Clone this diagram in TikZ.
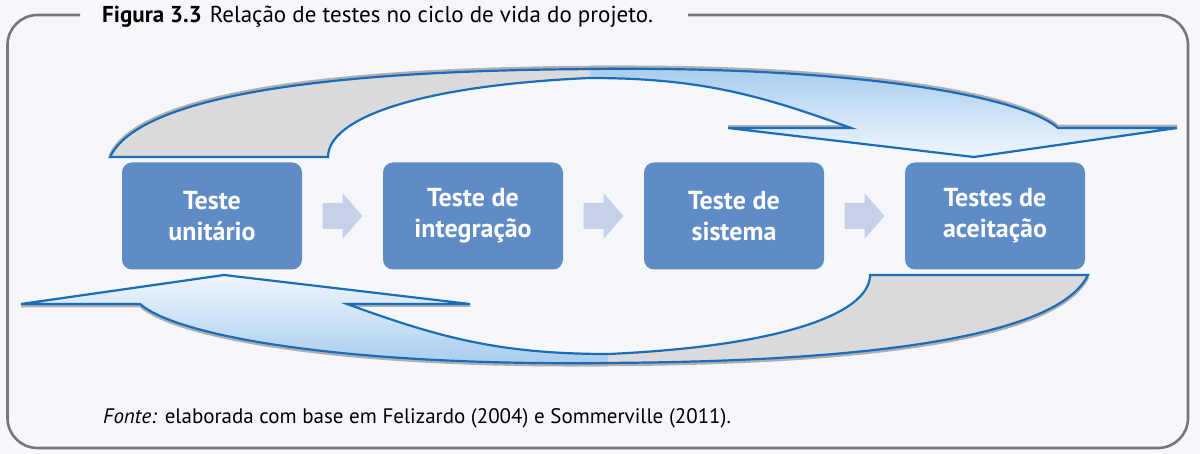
\documentclass[tikz,border=0pt]{standalone}
\usepackage{fontspec}
\setmainfont{PT Sans}
\usetikzlibrary{calc}
\definecolor{bgc}{HTML}{F5F7FB}
\definecolor{framec}{HTML}{777777}
\definecolor{boxc}{HTML}{5F8CC7}
\definecolor{smallarr}{HTML}{C6D0E8}
\definecolor{edgec}{HTML}{1B6DB9}
\definecolor{tailc}{HTML}{DADADA}
\definecolor{shadc}{HTML}{B0B0B0}
\definecolor{bluedark}{HTML}{A6CCEE}
\definecolor{bluelight}{HTML}{F0F6FD}
\begin{document}
\begin{tikzpicture}[x=1pt,y=-1pt,
  stagebox/.style={fill=boxc,rounded corners=10pt,minimum width=180pt,minimum height=107pt,
    text=white,font=\fontsize{26}{31}\selectfont\bfseries,align=center,inner sep=0pt},
  flowarr/.style={fill=smallarr},
  bigedge/.style={draw=edgec,line width=2.2pt,line join=miter},
  shadowedge/.style={draw=shadc,line width=2.6pt},
  framest/.style={draw=framec,line width=2.6pt,rounded corners=30pt}]
\useasboundingbox (0,0) rectangle (1200,454);
\fill[bgc] (0,0) rectangle (1200,454);
% frame
\draw[framest] (80,15) -- (7.5,15) -- (7.5,448) -- (1188,448) -- (1188,15) -- (688,15);
\node[anchor=base west,inner sep=0pt,font=\fontsize{23}{26}\selectfont] (title) at (102,23)
  {\textbf{Figura 3.3}\hspace{8pt}Relação de testes no ciclo de vida do projeto.};
% boxes
\node[stagebox] (b1) at (212,216) {Teste\\unitário};
\node[stagebox] (b2) at (473,216) {Teste de\\integração};
\node[stagebox] (b3) at (734,216) {Teste de\\sistema};
\node[stagebox] (b4) at (995,216) {Testes de\\aceitação};
% small arrows
\foreach \s/\t [count=\i] in {b1/b2,b2/b3,b3/b4}{
  \coordinate (m\i) at ($(\s.east)!0.5!(\t.west)$);
  \fill[flowarr] ($(m\i)+(-20,-13)$) -- ($(m\i)+(0,-13)$) -- ($(m\i)+(0,-23)$) -- ($(m\i)+(20,0)$)
     -- ($(m\i)+(0,23)$) -- ($(m\i)+(0,13)$) -- ($(m\i)+(-20,13)$) -- cycle;
}
% ---------- top arrow ----------
% shadow
\draw[shadowedge] (110,155) .. controls (140,93) and (330,67) .. (615,67);
\draw[shadowedge] (590,67) .. controls (850,64) and (1020,93) .. (1058,126) -- (1177,126);
\draw[shadowedge] (728,126) -- (851,126);
% tail (back side)
\filldraw[fill=tailc,bigedge] (110,157) -- (328,157) .. controls (328,118) and (420,83) .. (615,77)
   -- (615,69) .. controls (330,69) and (140,95) .. cycle;
% head
\shade[top color=bluedark,bottom color=bluelight] (590,69) .. controls (850,66) and (1020,95) .. (1058,128)
   -- (1177,128) -- (974,157) -- (728,128) -- (851,128) .. controls (760,95) and (700,78) .. (590,78) -- cycle;
\draw[bigedge] (590,69) .. controls (850,66) and (1020,95) .. (1058,128)
   -- (1177,128) -- (974,157) -- (728,128) -- (851,128) .. controls (760,95) and (700,78) .. (590,78);
% ---------- bottom arrow ----------
\draw[shadowedge] (1088,277) .. controls (1058,339) and (868,365) .. (583,365);
\draw[shadowedge] (608,365) .. controls (348,368) and (178,339) .. (140,306) -- (21,306);
\draw[shadowedge] (470,306) -- (347,306);
\filldraw[fill=tailc,bigedge] (1088,275) -- (870,275) .. controls (870,314) and (778,349) .. (583,355)
   -- (583,363) .. controls (868,363) and (1058,337) .. cycle;
\shade[top color=bluelight,bottom color=bluedark] (608,363) .. controls (348,366) and (178,337) .. (140,304)
   -- (21,304) -- (224,275) -- (470,304) -- (347,304) .. controls (438,337) and (498,354) .. (608,354) -- cycle;
\draw[bigedge] (608,363) .. controls (348,366) and (178,337) .. (140,304)
   -- (21,304) -- (224,275) -- (470,304) -- (347,304) .. controls (438,337) and (498,354) .. (608,354);
% source
\node[anchor=base west,inner sep=0pt,font=\fontsize{21}{24}\selectfont] (src) at (103,423)
  {\textit{Fonte:} elaborada com base em Felizardo (2004) e Sommerville (2011).};
\end{tikzpicture}
\end{document}
